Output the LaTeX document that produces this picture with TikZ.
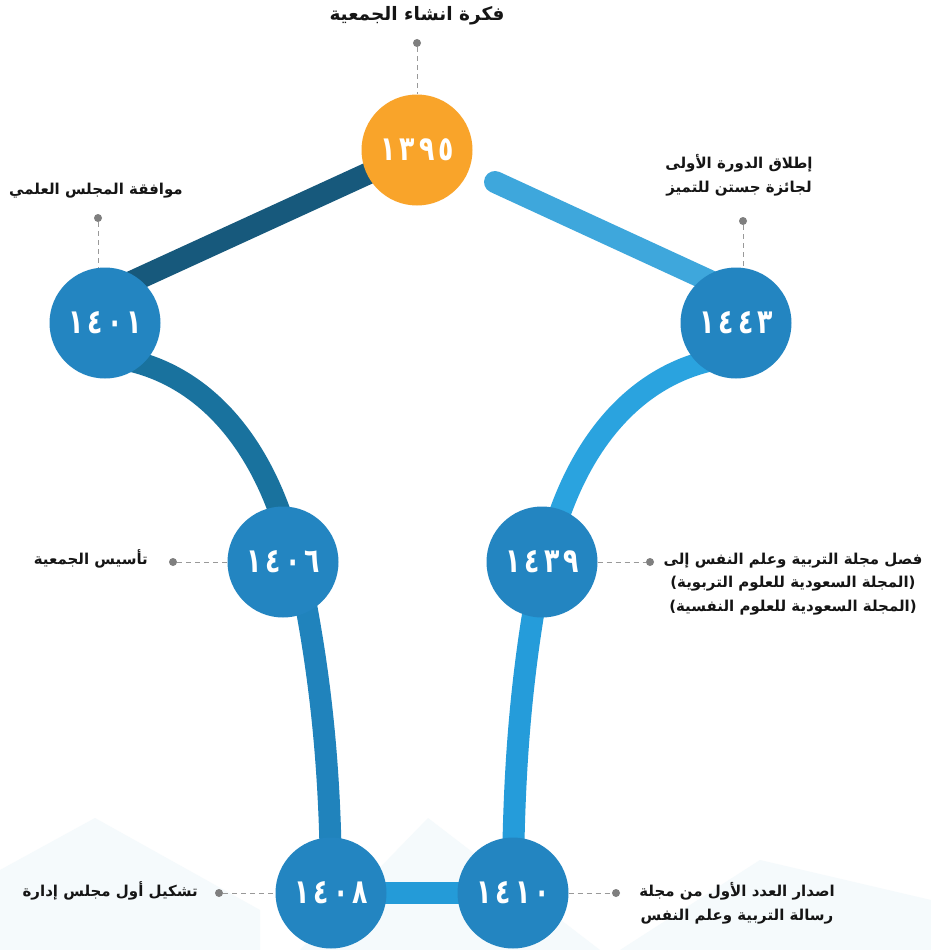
\documentclass[tikz,border=0pt]{standalone}
\usepackage{fontspec}
\newfontfamily\arabicfont[Script=Arabic]{DejaVu Sans}
\newfontfamily\numfont{DejaVu Sans}
\TeXXeTstate=1
\usetikzlibrary{calc}
\newcommand{\yearnum}[4]{\scalebox{0.74}[1]{#1\hspace{5.5pt}#2\hspace{5.5pt}#3\hspace{5.5pt}#4}}
\definecolor{corange}{HTML}{F9A42A}
\definecolor{cblue}{HTML}{2385C1}
\definecolor{bandA}{HTML}{17597C}
\definecolor{bandB}{HTML}{19729E}
\definecolor{bandC}{HTML}{2083BC}
\definecolor{bandD}{HTML}{249BD8}
\definecolor{bandE}{HTML}{259CDA}
\definecolor{bandF}{HTML}{2AA3DF}
\definecolor{bandG}{HTML}{3EA7DC}
\definecolor{cgray}{HTML}{7F7F7F}
\definecolor{ctext}{HTML}{151515}
\definecolor{cbg}{HTML}{F5FAFC}
\begin{document}
\begin{tikzpicture}[x=1pt,y=-1pt,
  circ/.style={circle, fill=cblue, minimum size=111pt, inner sep=0pt, text=white,
    font=\numfont\bfseries\fontsize{34}{34}\selectfont},
  band/.style={line width=22pt},
  lbl/.style={font=\arabicfont\bfseries\fontsize{15}{23.5}\selectfont, text=ctext, inner sep=0pt, align=center},
  lead/.style={draw=cgray!80, line width=1pt, dash pattern=on 5pt off 4pt},
  dotm/.style={circle, fill=cgray, inner sep=0pt, minimum size=8pt}
]
\useasboundingbox (0,0) rectangle (931,950);
\fill[white] (0,0) rectangle (931,950);
% faint background shapes
\fill[cbg] (0,870) -- (95,818) -- (260,910) -- (260,950) -- (0,950) -- cycle;
\fill[cbg] (300,950) -- (428,818) -- (600,950) -- cycle;
\fill[cbg] (620,950) -- (760,860) -- (931,900) -- (931,950) -- cycle;

% centers
\coordinate (p1395) at (417,150);
\coordinate (p1401) at (105,323);
\coordinate (p1443) at (736,323);
\coordinate (p1406) at (283,562);
\coordinate (p1439) at (542,562);
\coordinate (p1408) at (331,893);
\coordinate (p1410) at (513,893);
% band end points
\coordinate (aS) at (417,151);
\coordinate (aE) at (105,294);
\coordinate (gS) at (495,182);
\coordinate (gE) at (736,293);

% bands
\draw[band, bandA] (aS) -- (aE);
\draw[band, bandG, line cap=round] (gS) -- (gE);
\draw[band, bandB] (110,357) .. controls (200,368) and (262,440) .. (290,545);
\draw[band, bandC] (300,575) .. controls (322,680) and (331,780) .. (p1408);
\draw[band, bandD] (p1408) -- (p1410);
\draw[band, bandE] (p1410) .. controls (513,780) and (520,680) .. (540,575);
\draw[band, bandF] (550,545) .. controls (578,440) and (640,368) .. (730,357);

% circles
\node[circ, fill=corange] (n1395) at (p1395) {\yearnum{١}{٣}{٩}{٥}};
\node[circ] (n1401) at (p1401) {\yearnum{١}{٤}{٠}{١}};
\node[circ] (n1443) at (p1443) {\yearnum{١}{٤}{٤}{٣}};
\node[circ] (n1406) at (p1406) {\yearnum{١}{٤}{٠}{٦}};
\node[circ] (n1439) at (p1439) {\yearnum{١}{٤}{٣}{٩}};
\node[circ] (n1408) at (p1408) {\yearnum{١}{٤}{٠}{٨}};
\node[circ] (n1410) at (p1410) {\yearnum{١}{٤}{١}{٠}};

% dots
\node[dotm] (d1395) at (417,43) {};
\node[dotm] (d1401) at (98,218) {};
\node[dotm] (d1443) at (743,221) {};
\node[dotm] (d1406) at (173,562) {};
\node[dotm] (d1439) at (650,562) {};
\node[dotm] (d1408) at (219,893) {};
\node[dotm] (d1410) at (616,893) {};

% leaders
\draw[lead] (d1395) -- (n1395.north);
\draw[lead] (d1401) -- (d1401 |- n1401.north);
\draw[lead] (d1443) -- (d1443 |- n1443.north);
\draw[lead] (d1406) -- (n1406.west);
\draw[lead] (n1439.east) -- (d1439);
\draw[lead] (d1408) -- (n1408.west);
\draw[lead] (n1410.east) -- (d1410);

% labels
\node[lbl, font=\arabicfont\bfseries\fontsize{18.5}{22}\selectfont] (t1395) at (417,16) {\beginR فكرة انشاء الجمعية\endR};
\node[lbl] (t1401) at (96,191) {\beginR موافقة المجلس العلمي\endR};
\node[lbl] (t1443) at (739,175) {\beginR إطلاق الدورة الأولى\endR\\\beginR لجائزة جستن للتميز\endR};
\node[lbl, anchor=east] (t1406) at (148,559) {\beginR تأسيس الجمعية\endR};
\node[lbl] (t1439) at (793,584) {\beginR فصل مجلة التربية وعلم النفس إلى\endR\\\beginR (المجلة السعودية للعلوم التربوية)\endR\\\beginR (المجلة السعودية للعلوم النفسية)\endR};
\node[lbl, anchor=east] (t1408) at (198,891) {\beginR تشكيل أول مجلس إدارة\endR};
\node[lbl] (t1410) at (737,903) {\beginR اصدار العدد الأول من مجلة\endR\\\beginR رسالة التربية وعلم النفس\endR};
\end{tikzpicture}
\end{document}
